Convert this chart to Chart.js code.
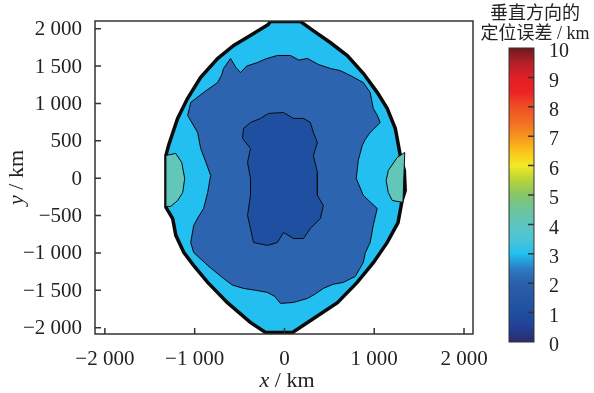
<!DOCTYPE html>
<html>
<head>
<meta charset="utf-8">
<script src="https://cdn.jsdelivr.net/npm/chart.js@4.4.0/dist/chart.umd.min.js"></script>
<style>
body{margin:0;background:#fff;}
#wrap{position:relative;width:594px;height:393px;}
canvas{position:absolute;top:0;}
</style>
</head>
<body>
<div id="wrap">
<canvas id="map" width="594" height="393" style="left:0"></canvas>
<canvas id="bar" width="124" height="393" style="left:470px"></canvas>
</div>
<script>
// ticks
var xTicks = [-2000, -1000, 0, 1000, 2000];
var yTicks = [-2000, -1500, -1000, -500, 0, 500, 1000, 1500, 2000];
var cbTicks = [0, 1, 2, 3, 4, 5, 6, 7, 8, 9, 10];

// contours, x/y in km
var outline = [[-160,2095],[180,2095],[320,1975],[510,1815],[700,1640],[880,1400],[1035,1145],[1145,930],[1235,665],[1290,305],[1335,105],[1345,-165],[1310,-300],[1265,-595],[1145,-860],[990,-1130],[810,-1395],[590,-1665],[320,-1880],[90,-2065],[-210,-2065],[-380,-1930],[-635,-1665],[-855,-1395],[-1010,-1170],[-1120,-995],[-1210,-765],[-1245,-540],[-1320,-390],[-1320,305],[-1290,440],[-1190,800],[-1080,1065],[-935,1345],[-745,1600],[-565,1775],[-380,1910],[-180,2055]];
var level2 = [[-600,1602],[-540,1480],[-489,1414],[-420,1500],[-300,1548],[-200,1600],[-78,1642],[67,1642],[160,1580],[256,1602],[380,1520],[511,1468],[620,1440],[733,1374],[878,1280],[955,1147],[989,933],[1030,850],[1067,745],[955,611],[900,520],[867,438],[822,237],[800,-4],[878,-231],[1033,-405],[989,-633],[955,-860],[900,-1000],[878,-1128],[789,-1315],[655,-1395],[540,-1420],[433,-1475],[330,-1560],[256,-1609],[100,-1663],[-44,-1676],[-110,-1580],[-189,-1529],[-320,-1500],[-456,-1475],[-580,-1430],[-678,-1342],[-855,-1168],[-1011,-994],[-1044,-860],[-1011,-633],[-960,-520],[-900,-405],[-855,-191],[-822,36],[-880,230],[-933,397],[-967,611],[-1078,839],[-1044,1013],[-900,1147],[-744,1280],[-700,1380],[-678,1468]];
var level1 = [[-456,665],[-378,745],[-267,799],[-178,866],[-11,879],[100,799],[211,799],[289,745],[322,611],[367,478],[322,304],[367,76],[367,-231],[433,-365],[400,-539],[289,-673],[211,-807],[100,-807],[-11,-726],[-78,-860],[-189,-900],[-344,-860],[-378,-673],[-411,-499],[-378,-231],[-378,-4],[-411,210],[-378,397],[-467,531]];
var leftPatch = [[-1320,304],[-1211,331],[-1144,210],[-1111,-4],[-1133,-191],[-1189,-298],[-1267,-378],[-1320,-378]];
var rightPatch = [[1340,344],[1256,277],[1156,103],[1133,-31],[1156,-191],[1200,-298],[1320,-325]];

var cbStops = [0, 0.5, 1, 2, 2.5, 3, 3.5, 4, 4.5, 5, 5.5, 6, 6.5, 7, 7.5, 8, 8.5, 9, 9.5, 10];
var cbColors = ['#2b2d6a','#233f96','#1f4fa0','#2b5faa','#2c7dc4','#22c0ee','#4cc4d6','#5cc6be','#6cc49c','#86c46a','#b6d437','#f2e926','#fbc21a','#f7931e','#f26c22','#f04e25','#ed2224','#e01f26','#b41f2a','#6d1a1d'];

function pts(arr) {
	return arr.concat([arr[0]]).map(function(p) { return {x: p[0], y: p[1]}; });
}

function fmt(v) {
	var s = Math.abs(v).toString();
	if (s.length > 3) s = s.slice(0, -3) + ' ' + s.slice(-3);
	return (v < 0 ? '\u2212' : '') + s;
}

var serif = "'Liberation Serif', 'Times New Roman', serif";

function area(data, color, bw) {
	return {
		data: pts(data),
		showLine: true,
		fill: 'shape',
		backgroundColor: color,
		borderColor: '#0a0a0a',
		borderWidth: bw,
		pointRadius: 0,
		tension: 0
	};
}

function axisTitle(ctx, letter, x, y) {
	ctx.font = 'italic 22px ' + serif;
	var w1 = ctx.measureText(letter).width;
	ctx.font = '22px ' + serif;
	var w2 = ctx.measureText(' / km').width;
	ctx.textAlign = 'left';
	ctx.font = 'italic 22px ' + serif;
	ctx.fillText(letter, x - (w1 + w2) / 2, y);
	ctx.font = '22px ' + serif;
	ctx.fillText(' / km', x - (w1 + w2) / 2 + w1, y);
}

var framePlugin = {
	id: 'frame',
	afterDraw: function(chart) {
		var ctx = chart.ctx, a = chart.chartArea;
		var xs = chart.scales.x, ys = chart.scales.y;
		ctx.save();
		ctx.strokeStyle = '#333';
		ctx.lineWidth = 1.5;
		ctx.strokeRect(a.left, a.top, a.right - a.left, a.bottom - a.top);
		ctx.beginPath();
		xTicks.forEach(function(v) {
			var p = xs.getPixelForValue(v);
			ctx.moveTo(p, a.bottom); ctx.lineTo(p, a.bottom - 6);
		});
		yTicks.forEach(function(v) {
			var p = ys.getPixelForValue(v);
			ctx.moveTo(a.left, p); ctx.lineTo(a.left + 6, p);
		});
		ctx.stroke();
		// axis titles
		ctx.fillStyle = '#222';
		ctx.textBaseline = 'middle';
		axisTitle(ctx, 'x', (a.left + a.right) / 2 + 3, 381);
		ctx.translate(17, (a.top + a.bottom) / 2);
		ctx.rotate(-Math.PI / 2);
		axisTitle(ctx, 'y', 0, 0);
		ctx.restore();
	}
};

new Chart(document.getElementById('map'), {
	type: 'scatter',
	data: {
		datasets: [
			area(level1, '#1f4fa0', 1),
			area(leftPatch, '#62c7b9', 1),
			area(rightPatch, '#62c7b9', 1),
			area(level2, '#2c64b0', 1),
			area(outline, '#22bff0', 3.5)
		]
	},
	options: {
		responsive: false,
		animation: false,
		events: [],
		layout: {padding: {left: 0, top: 21, right: 121, bottom: 0}},
		plugins: {legend: {display: false}, tooltip: {enabled: false}},
		scales: {
			x: {
				type: 'linear', min: -2110, max: 2100,
				afterBuildTicks: function(s) { s.ticks = xTicks.map(function(v) { return {value: v}; }); },
				afterFit: function(s) { s.height = 59; },
				grid: {display: false}, border: {display: false},
				ticks: {padding: 5, color: '#222', maxRotation: 0, font: {family: serif, size: 21}, callback: fmt}
			},
			y: {
				type: 'linear', min: -2085, max: 2103,
				afterBuildTicks: function(s) { s.ticks = yTicks.map(function(v) { return {value: v}; }); },
				afterFit: function(s) { s.width = 95; },
				grid: {display: false}, border: {display: false},
				ticks: {padding: 5, labelOffset: 1, color: '#222', font: {family: serif, size: 21}, callback: fmt}
			}
		}
	},
	plugins: [framePlugin]
});

var cbPlugin = {
	id: 'cbframe',
	afterDraw: function(chart) {
		var ctx = chart.ctx, a = chart.chartArea, ys = chart.scales.y;
		ctx.save();
		ctx.strokeStyle = '#333';
		ctx.lineWidth = 1;
		ctx.strokeRect(a.left, a.top, a.right - a.left, a.bottom - a.top);
		ctx.lineWidth = 1.5;
		ctx.beginPath();
		cbTicks.slice(1, -1).forEach(function(v) {
			var p = ys.getPixelForValue(v);
			ctx.moveTo(a.right, p); ctx.lineTo(a.right - 6, p);
		});
		ctx.stroke();
		ctx.fillStyle = '#222';
		ctx.textAlign = 'center';
		ctx.textBaseline = 'middle';
		ctx.font = "18px 'Liberation Serif', 'Noto Sans CJK SC', serif";
		ctx.fillText('垂直方向的', 65, 14);
		ctx.fillText('定位误差 / km', 65, 34);
		ctx.restore();
	}
};

new Chart(document.getElementById('bar'), {
	type: 'bar',
	data: {
		labels: [''],
		datasets: [{
			data: [[0, 10]],
			barPercentage: 1,
			categoryPercentage: 1,
			borderWidth: 0,
			backgroundColor: function(c) {
				var a = c.chart.chartArea;
				if (!a) return 'transparent';
				var g = c.chart.ctx.createLinearGradient(0, a.bottom, 0, a.top);
				cbStops.forEach(function(s, i) { g.addColorStop(s / 10, cbColors[i]); });
				return g;
			}
		}]
	},
	options: {
		responsive: false,
		animation: false,
		events: [],
		layout: {padding: {left: 39, top: 48, right: 0, bottom: 51}},
		plugins: {legend: {display: false}, tooltip: {enabled: false}},
		scales: {
			x: {display: false},
			y: {
				position: 'right', min: 0, max: 10,
				afterBuildTicks: function(s) { s.ticks = cbTicks.map(function(v) { return {value: v}; }); },
				afterFit: function(s) { s.width = 60; },
				grid: {display: false}, border: {display: false},
				ticks: {padding: 7, labelOffset: 4, color: '#222', font: {family: serif, size: 20}}
			}
		}
	},
	plugins: [cbPlugin]
});
</script>
</body>
</html>
